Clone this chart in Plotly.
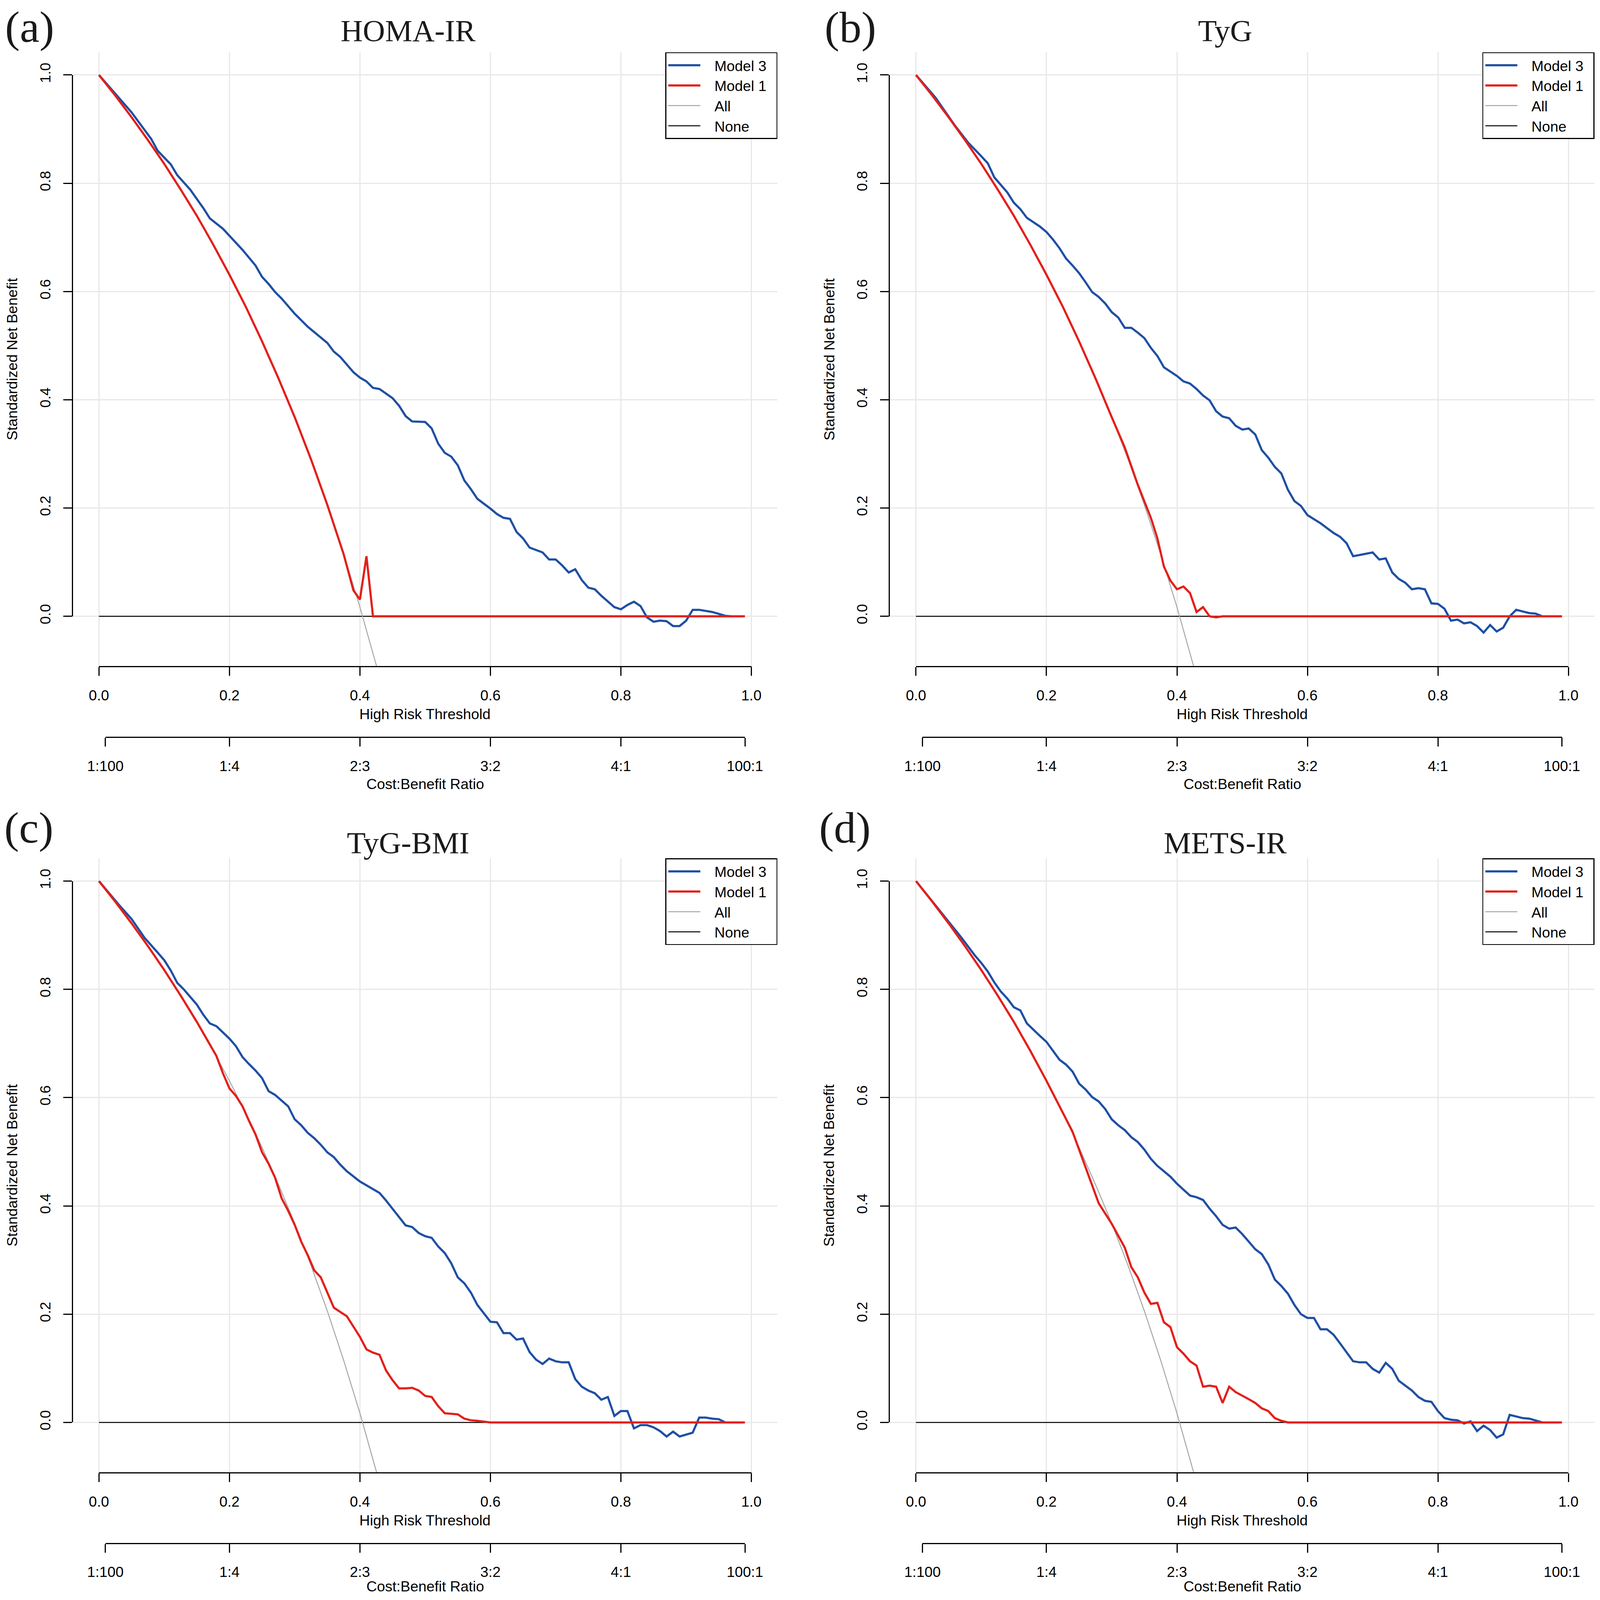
import plotly.graph_objects as go

titles = ["HOMA-IR", "TyG", "TyG-BMI", "METS-IR"]
tags = ["(a)", "(b)", "(c)", "(d)"]
nb_ticks = [0, 0.2, 0.4, 0.6, 0.8, 1.0]
nb_text = ["0.0", "0.2", "0.4", "0.6", "0.8", "1.0"]
cb_ticks = [1 / 101, 0.2, 0.4, 0.6, 0.8, 100 / 101]
cb_text = ["1:100", "1:4", "2:3", "3:2", "4:1", "100:1"]

# treat-all and treat-none references (same cohort in every panel)
all_x = [0, 0.025, 0.05, 0.075, 0.1, 0.125, 0.15, 0.175, 0.2, 0.225, 0.25,
         0.275, 0.3, 0.325, 0.35, 0.375, 0.4, 0.425, 0.45]
all_y = [1.0, 0.962, 0.922, 0.880, 0.836, 0.789, 0.740, 0.687, 0.631, 0.572,
         0.508, 0.440, 0.368, 0.290, 0.206, 0.115, 0.017, -0.090, -0.207]
none_x = [0, 0.99]
none_y = [0, 0]

# (a) HOMA-IR
homa_m3_x = [0, 0.02, 0.05, 0.08, 0.09, 0.11, 0.12, 0.14, 0.16, 0.17, 0.19, 0.20,
             0.22, 0.24, 0.25, 0.26, 0.27, 0.28, 0.30, 0.32, 0.33, 0.35, 0.36, 0.37,
             0.39, 0.40, 0.41, 0.42, 0.43, 0.45, 0.46, 0.47, 0.48, 0.50, 0.51, 0.52,
             0.53, 0.54, 0.55, 0.56, 0.57, 0.58, 0.60, 0.61, 0.62, 0.63, 0.64, 0.65,
             0.66, 0.67, 0.68, 0.69, 0.70, 0.71, 0.72, 0.73, 0.74, 0.75, 0.76, 0.77,
             0.78, 0.79, 0.80, 0.81, 0.82, 0.83, 0.84, 0.85, 0.86, 0.87, 0.88, 0.89,
             0.90, 0.91, 0.92, 0.94, 0.96, 0.97]
homa_m3_y = [1.0, 0.972, 0.931, 0.882, 0.860, 0.835, 0.815, 0.788, 0.754, 0.735, 0.716,
             0.703, 0.677, 0.648, 0.627, 0.614, 0.599, 0.587, 0.559, 0.535, 0.525, 0.505,
             0.489, 0.479, 0.451, 0.441, 0.434, 0.422, 0.420, 0.403, 0.389, 0.370, 0.360,
             0.359, 0.347, 0.319, 0.302, 0.295, 0.279, 0.251, 0.235, 0.217, 0.199, 0.189,
             0.182, 0.180, 0.156, 0.144, 0.127, 0.123, 0.118, 0.105, 0.105, 0.094, 0.081,
             0.087, 0.067, 0.053, 0.050, 0.038, 0.027, 0.017, 0.013, 0.021, 0.027, 0.019,
             -0.002, -0.010, -0.008, -0.009, -0.018, -0.018, -0.008, 0.012, 0.012, 0.008,
             0.001, 0.0]
homa_m1_x = [0, 0.025, 0.05, 0.075, 0.1, 0.125, 0.15, 0.175, 0.2, 0.225, 0.25, 0.275,
             0.3, 0.325, 0.35, 0.375, 0.39, 0.40, 0.41, 0.42, 0.99]
homa_m1_y = [1.0, 0.962, 0.922, 0.880, 0.836, 0.789, 0.740, 0.687, 0.631, 0.572, 0.508,
             0.440, 0.368, 0.290, 0.206, 0.115, 0.048, 0.031, 0.111, 0.0, 0.0]

# (b) TyG
tyg_m3_x = [0, 0.03, 0.06, 0.08, 0.10, 0.11, 0.12, 0.14, 0.15, 0.16, 0.17, 0.19, 0.20,
            0.21, 0.22, 0.23, 0.24, 0.25, 0.26, 0.27, 0.28, 0.29, 0.30, 0.31, 0.32, 0.33,
            0.34, 0.35, 0.36, 0.37, 0.38, 0.39, 0.40, 0.41, 0.42, 0.43, 0.44, 0.45, 0.46,
            0.47, 0.48, 0.49, 0.50, 0.51, 0.52, 0.53, 0.54, 0.55, 0.56, 0.57, 0.58, 0.59,
            0.60, 0.62, 0.63, 0.64, 0.65, 0.66, 0.67, 0.68, 0.69, 0.70, 0.71, 0.72, 0.73,
            0.74, 0.75, 0.76, 0.77, 0.78, 0.79, 0.80, 0.81, 0.82, 0.83, 0.84, 0.85, 0.86,
            0.87, 0.88, 0.89, 0.90, 0.91, 0.92, 0.93, 0.94, 0.95, 0.96]
tyg_m3_y = [1.0, 0.958, 0.906, 0.875, 0.850, 0.837, 0.811, 0.783, 0.764, 0.752, 0.736,
            0.720, 0.710, 0.696, 0.680, 0.661, 0.648, 0.634, 0.617, 0.599, 0.590, 0.578,
            0.562, 0.552, 0.533, 0.533, 0.524, 0.514, 0.496, 0.481, 0.460, 0.452, 0.444,
            0.434, 0.430, 0.420, 0.408, 0.399, 0.379, 0.369, 0.366, 0.352, 0.345, 0.347,
            0.336, 0.307, 0.293, 0.276, 0.264, 0.234, 0.213, 0.204, 0.187, 0.172, 0.163,
            0.154, 0.147, 0.135, 0.111, 0.113, 0.115, 0.118, 0.105, 0.107, 0.081, 0.069,
            0.062, 0.050, 0.052, 0.050, 0.024, 0.023, 0.014, -0.008, -0.006, -0.013,
            -0.011, -0.018, -0.030, -0.016, -0.028, -0.021, 0.0, 0.012, 0.009, 0.006,
            0.005, 0.0]
tyg_m1_x = [0, 0.025, 0.05, 0.075, 0.1, 0.125, 0.15, 0.175, 0.2, 0.225, 0.25, 0.275,
            0.3, 0.32, 0.34, 0.35, 0.36, 0.37, 0.38, 0.39, 0.40, 0.41, 0.42, 0.43, 0.44,
            0.45, 0.46, 0.47, 0.99]
tyg_m1_y = [1.0, 0.962, 0.922, 0.880, 0.836, 0.789, 0.740, 0.687, 0.631, 0.572, 0.508,
            0.440, 0.368, 0.312, 0.243, 0.212, 0.182, 0.144, 0.092, 0.066, 0.050, 0.055,
            0.043, 0.008, 0.017, 0.0, -0.002, 0.0, 0.0]

# (c) TyG-BMI
tygbmi_m3_x = [0, 0.03, 0.05, 0.07, 0.09, 0.10, 0.11, 0.12, 0.13, 0.14, 0.15, 0.16,
               0.17, 0.18, 0.19, 0.20, 0.21, 0.22, 0.23, 0.24, 0.25, 0.26, 0.27, 0.28,
               0.29, 0.30, 0.31, 0.32, 0.33, 0.34, 0.35, 0.36, 0.37, 0.38, 0.39, 0.40,
               0.41, 0.42, 0.43, 0.44, 0.45, 0.46, 0.47, 0.48, 0.49, 0.50, 0.51, 0.52,
               0.53, 0.54, 0.55, 0.56, 0.57, 0.58, 0.59, 0.60, 0.61, 0.62, 0.63, 0.64,
               0.65, 0.66, 0.67, 0.68, 0.69, 0.70, 0.71, 0.72, 0.73, 0.74, 0.75, 0.76,
               0.77, 0.78, 0.79, 0.80, 0.81, 0.82, 0.83, 0.84, 0.85, 0.86, 0.87, 0.88,
               0.89, 0.90, 0.91, 0.92, 0.93, 0.94, 0.95, 0.96]
tygbmi_m3_y = [1.0, 0.957, 0.930, 0.895, 0.868, 0.854, 0.835, 0.812, 0.800, 0.786,
               0.772, 0.753, 0.737, 0.732, 0.720, 0.709, 0.695, 0.675, 0.662, 0.650,
               0.636, 0.612, 0.605, 0.595, 0.584, 0.560, 0.549, 0.535, 0.525, 0.513,
               0.499, 0.490, 0.476, 0.464, 0.454, 0.445, 0.438, 0.431, 0.424, 0.410,
               0.395, 0.379, 0.364, 0.361, 0.350, 0.344, 0.341, 0.325, 0.313, 0.294,
               0.268, 0.257, 0.240, 0.217, 0.202, 0.186, 0.185, 0.165, 0.165, 0.153,
               0.155, 0.130, 0.116, 0.108, 0.118, 0.113, 0.111, 0.111, 0.080, 0.066,
               0.059, 0.054, 0.042, 0.047, 0.012, 0.021, 0.021, -0.011, -0.005, -0.005,
               -0.009, -0.016, -0.026, -0.017, -0.026, -0.022, -0.019, 0.009, 0.009,
               0.007, 0.006, 0.0]
tygbmi_m1_x = [0, 0.025, 0.05, 0.075, 0.1, 0.125, 0.15, 0.17, 0.18, 0.19, 0.20, 0.21,
               0.22, 0.23, 0.24, 0.25, 0.26, 0.27, 0.28, 0.29, 0.30, 0.31, 0.32, 0.33,
               0.34, 0.35, 0.36, 0.37, 0.38, 0.39, 0.40, 0.41, 0.42, 0.43, 0.44, 0.45,
               0.46, 0.47, 0.48, 0.49, 0.50, 0.51, 0.52, 0.53, 0.54, 0.55, 0.56, 0.57,
               0.58, 0.59, 0.60, 0.99]
tygbmi_m1_y = [1.0, 0.962, 0.922, 0.880, 0.836, 0.789, 0.740, 0.699, 0.677, 0.645,
               0.617, 0.603, 0.584, 0.557, 0.532, 0.499, 0.478, 0.452, 0.414, 0.391,
               0.365, 0.334, 0.309, 0.281, 0.268, 0.240, 0.212, 0.204, 0.196, 0.177,
               0.158, 0.135, 0.129, 0.125, 0.096, 0.078, 0.063, 0.063, 0.064, 0.059,
               0.049, 0.047, 0.030, 0.017, 0.016, 0.015, 0.007, 0.004, 0.003, 0.001,
               0.0, 0.0]

# (d) METS-IR
mets_m3_x = [0, 0.03, 0.05, 0.07, 0.09, 0.10, 0.11, 0.12, 0.13, 0.14, 0.15, 0.16, 0.17,
             0.18, 0.19, 0.20, 0.21, 0.22, 0.23, 0.24, 0.25, 0.26, 0.27, 0.28, 0.29, 0.30,
             0.31, 0.32, 0.33, 0.34, 0.35, 0.36, 0.37, 0.38, 0.39, 0.40, 0.41, 0.42, 0.43,
             0.44, 0.45, 0.46, 0.47, 0.48, 0.49, 0.50, 0.51, 0.52, 0.53, 0.54, 0.55, 0.56,
             0.57, 0.58, 0.59, 0.60, 0.61, 0.62, 0.63, 0.64, 0.65, 0.66, 0.67, 0.68, 0.69,
             0.70, 0.71, 0.72, 0.73, 0.74, 0.75, 0.76, 0.77, 0.78, 0.79, 0.80, 0.81, 0.82,
             0.83, 0.84, 0.85, 0.86, 0.87, 0.88, 0.89, 0.90, 0.91, 0.92, 0.93, 0.94, 0.95,
             0.96]
mets_m3_y = [1.0, 0.955, 0.925, 0.895, 0.863, 0.849, 0.833, 0.813, 0.796, 0.783, 0.767,
             0.761, 0.737, 0.725, 0.714, 0.703, 0.687, 0.670, 0.661, 0.648, 0.626, 0.615,
             0.601, 0.593, 0.579, 0.560, 0.549, 0.540, 0.527, 0.518, 0.504, 0.487, 0.474,
             0.464, 0.454, 0.441, 0.430, 0.419, 0.416, 0.411, 0.395, 0.381, 0.365, 0.358,
             0.360, 0.348, 0.334, 0.320, 0.311, 0.292, 0.264, 0.252, 0.238, 0.217, 0.200,
             0.193, 0.193, 0.172, 0.172, 0.162, 0.146, 0.130, 0.113, 0.111, 0.111, 0.099,
             0.092, 0.110, 0.099, 0.077, 0.068, 0.059, 0.047, 0.040, 0.038, 0.021, 0.008,
             0.005, 0.004, -0.002, 0.002, -0.016, -0.006, -0.014, -0.028, -0.022, 0.014,
             0.011, 0.008, 0.007, 0.003, 0.0]
mets_m1_x = [0, 0.025, 0.05, 0.075, 0.1, 0.125, 0.15, 0.175, 0.2, 0.225, 0.24, 0.26,
             0.28, 0.30, 0.32, 0.33, 0.34, 0.35, 0.36, 0.37, 0.38, 0.39, 0.40, 0.41, 0.42,
             0.43, 0.44, 0.45, 0.46, 0.47, 0.48, 0.49, 0.50, 0.51, 0.52, 0.53, 0.54, 0.55,
             0.56, 0.57, 0.99]
mets_m1_y = [1.0, 0.962, 0.922, 0.880, 0.836, 0.789, 0.740, 0.687, 0.631, 0.572, 0.537,
             0.471, 0.405, 0.367, 0.323, 0.287, 0.268, 0.240, 0.219, 0.221, 0.185, 0.176,
             0.139, 0.127, 0.113, 0.105, 0.066, 0.068, 0.066, 0.036, 0.066, 0.056, 0.050,
             0.043, 0.036, 0.026, 0.021, 0.008, 0.003, 0.0, 0.0]

series = [
    (homa_m3_x, homa_m3_y, homa_m1_x, homa_m1_y),
    (tyg_m3_x, tyg_m3_y, tyg_m1_x, tyg_m1_y),
    (tygbmi_m3_x, tygbmi_m3_y, tygbmi_m1_x, tygbmi_m1_y),
    (mets_m3_x, mets_m3_y, mets_m1_x, mets_m1_y),
]

BLUE, RED, GREY = "#1f4fa3", "#e3201b", "#a6a6a6"
SANS, SERIF = "Liberation Sans", "Liberation Serif"
LEAD, TAIL = "\u00a0" * 3, "\u00a0" * 2

# the visible page area is about 4096 px square with an 8 px body margin,
# so the 4134x4190 reference layout is scaled into it
REF_W, REF_H = 4134, 4190
VIEW, BODY = 4096, 8
FW = FH = VIEW - 2 * BODY
SX, SY = VIEW / REF_W, VIEW / REF_H
FS = (SX + SY) / 2

# panel geometry in reference pixels, measured on panel (a)
STEP = 2111
X0, X1 = 255.7, 1941.4      # threshold 0 and 1
Y1, Y0 = 196.4, 1614.0      # net benefit 1 and 0
XLIM, YLIM = [-0.04, 1.04], [-0.092, 1.042]
CB_LINE = 1930.5
tag_pos = [(77, 70), (86, 71), (75, 56), (72, 56)]
title_y = [80, 80, 96, 96]
cb_title_y = [2053, 2053, 2043, 2043]


def fx(p):
    return (p * SX - BODY) / FW


def fy(p):
    return 1 - (p * SY - BODY) / FH


def xpx(v):
    return X0 + v * (X1 - X0)


def ypx(v):
    return Y0 - v * (Y0 - Y1)


fig = go.Figure()
layout = {}
annotations = []
axis_line = dict(showline=True, linecolor="black", linewidth=2.5, ticks="outside",
                 ticklen=22, tickwidth=2.5, tickcolor="black", showgrid=False,
                 zeroline=False, automargin=False,
                 tickfont=dict(family=SANS, size=38 * FS, color="black"))
grid = dict(showticklabels=False, ticks="", showgrid=True, gridcolor="#e8e8e8",
            gridwidth=2.5, zeroline=False, showline=False, automargin=False)

for k in range(4):
    ox, oy = (k % 2) * STEP, (k // 2) * STEP
    xa, xb, xc = 3 * k + 1, 3 * k + 2, 3 * k + 3
    ya, yb = 2 * k + 1, 2 * k + 2
    leg = "legend" if k == 0 else f"legend{k + 1}"
    m3x, m3y, m1x, m1y = series[k]

    # data axes: grid only
    layout[f"xaxis{xa}"] = dict(
        grid, domain=[fx(ox + xpx(XLIM[0])), fx(ox + xpx(XLIM[1]))], range=XLIM,
        anchor=f"y{ya}", tickvals=nb_ticks)
    layout[f"yaxis{ya}"] = dict(
        grid, domain=[fy(oy + ypx(YLIM[0])), fy(oy + ypx(YLIM[1]))], range=YLIM,
        anchor=f"x{xa}", tickvals=nb_ticks)
    # visible threshold axis (spans 0..1 only)
    layout[f"xaxis{xb}"] = dict(
        axis_line, domain=[fx(ox + X0), fx(ox + X1)], range=[0, 1], anchor=f"y{ya}",
        side="bottom", tickvals=nb_ticks, ticktext=nb_text, ticklabelstandoff=18)
    # visible net benefit axis (spans 0..1 only)
    layout[f"yaxis{yb}"] = dict(
        axis_line, domain=[fy(oy + Y0), fy(oy + Y1)], range=[0, 1], anchor=f"x{xa}",
        side="left", tickvals=nb_ticks, ticktext=nb_text, tickangle=-90,
        ticklabelstandoff=18)
    # cost:benefit axis
    layout[f"xaxis{xc}"] = dict(
        axis_line, domain=[fx(ox + xpx(cb_ticks[0])), fx(ox + xpx(cb_ticks[-1]))],
        range=[cb_ticks[0], cb_ticks[-1]], anchor="free", position=fy(oy + CB_LINE),
        side="bottom", tickvals=cb_ticks, ticktext=cb_text, ticklabelstandoff=18)

    layout[leg] = dict(
        x=fx(ox + xpx(XLIM[1])), y=fy(oy + ypx(YLIM[1])), xanchor="right", yanchor="top",
        bgcolor="white", bordercolor="black", borderwidth=2.5, itemwidth=82,
        font=dict(family=SANS, size=38 * FS, color="black"), traceorder="normal")

    common = dict(xaxis=f"x{xa}", yaxis=f"y{ya}", mode="lines", legend=leg,
                  hoverinfo="skip")
    fig.add_trace(go.Scatter(x=none_x, y=none_y, name=LEAD + "None" + TAIL,
                             legendrank=4, line=dict(color="black", width=2.5), **common))
    fig.add_trace(go.Scatter(x=all_x, y=all_y, name=LEAD + "All" + TAIL,
                             legendrank=3, line=dict(color=GREY, width=2.5), **common))
    fig.add_trace(go.Scatter(x=m3x, y=m3y, name=LEAD + "Model 3" + TAIL,
                             legendrank=1, line=dict(color=BLUE, width=5.5), **common))
    fig.add_trace(go.Scatter(x=m1x, y=m1y, name=LEAD + "Model 1" + TAIL,
                             legendrank=2, line=dict(color=RED, width=5.5), **common))
    # empty traces so the helper axes get drawn; they share a grid-free subplot
    for ax_x in (xb, xc):
        fig.add_trace(go.Scatter(x=[], y=[], xaxis=f"x{ax_x}", yaxis=f"y{yb}",
                                 showlegend=False, hoverinfo="skip"))

    cx = fx(ox + (xpx(XLIM[0]) + xpx(XLIM[1])) / 2)
    cy = fy(oy + (ypx(YLIM[0]) + ypx(YLIM[1])) / 2)
    txt = dict(xref="paper", yref="paper", showarrow=False, xanchor="center",
               yanchor="middle", font=dict(family=SANS, size=38 * FS, color="black"))
    annotations += [
        dict(txt, text="High Risk Threshold", x=cx, y=fy(oy + 1870)),
        dict(txt, text="Cost:Benefit Ratio", x=cx, y=fy(oy + cb_title_y[k])),
        dict(txt, text="Standardized Net Benefit", x=fx(ox + 31), y=cy, textangle=-90),
        dict(txt, text=titles[k], x=fx(ox + 1055), y=fy(oy + title_y[k]),
             font=dict(family=SERIF, size=80 * FS, color="#1a1a1a")),
        dict(txt, text=tags[k], x=fx(ox + tag_pos[k][0]), y=fy(oy + tag_pos[k][1]),
             font=dict(family=SERIF, size=115 * FS, color="#1a1a1a")),
    ]

fig.update_layout(
    width=FW, height=FH, margin=dict(l=0, r=0, t=0, b=0, pad=0, autoexpand=False),
    paper_bgcolor="white", plot_bgcolor="rgba(0,0,0,0)",
    font=dict(family=SANS, size=38 * FS, color="black"),
    annotations=annotations, **layout)

fig.write_html("out.html")
